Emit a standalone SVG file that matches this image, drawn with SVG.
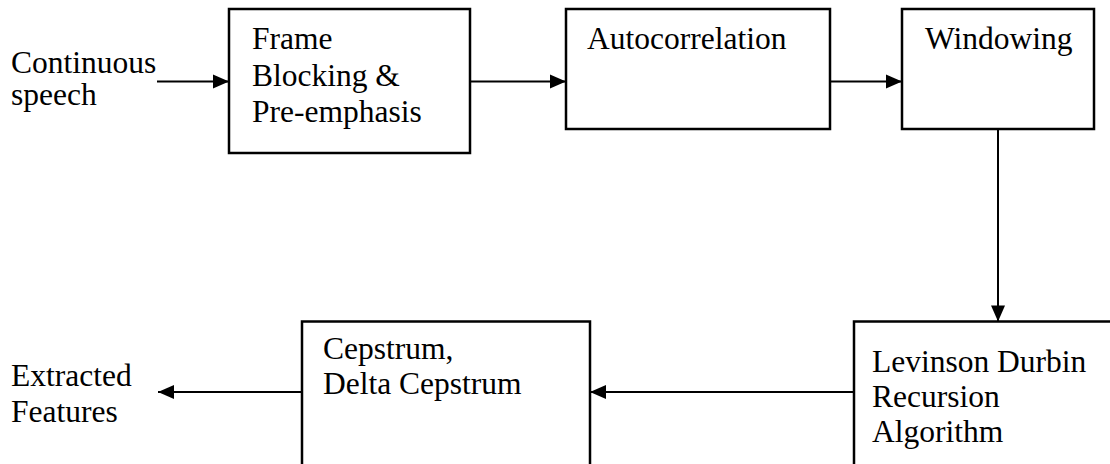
<svg xmlns="http://www.w3.org/2000/svg" width="1110" height="464" viewBox="0 0 1110 464">
<style>
.box{fill:#fff;stroke:#000;stroke-width:2.5}
.lbl{font-size:31.5px;fill:#000}
.con{fill:none;stroke:#000;stroke-width:2}
</style>
<defs>
<marker id="ah" markerUnits="userSpaceOnUse" markerWidth="18" markerHeight="16" viewBox="0 0 18 16" refX="17" refY="8" orient="auto">
<path d="M1,1 L17,8 L1,15 Z" fill="#000"/>
</marker>
</defs>
<rect width="1110" height="464" fill="#fff"/>
<g font-family="'Liberation Serif', 'Times New Roman', 'DejaVu Serif', serif">
<g id="input">
<text class="lbl" x="11" y="72.5">Continuous</text>
<text class="lbl" x="11" y="105">speech</text>
</g>
<g id="frame">
<rect class="box" x="229" y="9" width="241" height="144"/>
<text class="lbl" x="252" y="49">Frame</text>
<text class="lbl" x="252" y="86">Blocking &amp;</text>
<text class="lbl" x="252" y="122">Pre-emphasis</text>
</g>
<g id="autocorrelation">
<rect class="box" x="566" y="9" width="264" height="120"/>
<text class="lbl" x="587" y="49">Autocorrelation</text>
</g>
<g id="windowing">
<rect class="box" x="902" y="9" width="192" height="120"/>
<text class="lbl" x="925" y="49">Windowing</text>
</g>
<g id="levinson">
<rect class="box" x="854" y="321.5" width="300" height="200"/>
<text class="lbl" x="872" y="371.5">Levinson Durbin</text>
<text class="lbl" x="872" y="406.5">Recursion</text>
<text class="lbl" x="872" y="441.5">Algorithm</text>
</g>
<g id="cepstrum">
<rect class="box" x="302" y="321.5" width="288" height="200"/>
<text class="lbl" x="323" y="359">Cepstrum,</text>
<text class="lbl" x="323" y="394">Delta Cepstrum</text>
</g>
<g id="output">
<text class="lbl" x="11" y="386">Extracted</text>
<text class="lbl" x="11" y="421.5">Features</text>
</g>
</g>
<g id="connectors">
<line class="con" x1="157" y1="81.5" x2="229" y2="81.5" marker-end="url(#ah)"/>
<line class="con" x1="470" y1="81.5" x2="566" y2="81.5" marker-end="url(#ah)"/>
<line class="con" x1="830" y1="81.5" x2="902" y2="81.5" marker-end="url(#ah)"/>
<line class="con" x1="998" y1="129" x2="998" y2="321.5" marker-end="url(#ah)"/>
<line class="con" x1="854" y1="392" x2="590" y2="392" marker-end="url(#ah)"/>
<line class="con" x1="302" y1="392" x2="158" y2="392" marker-end="url(#ah)"/>
</g>
</svg>
